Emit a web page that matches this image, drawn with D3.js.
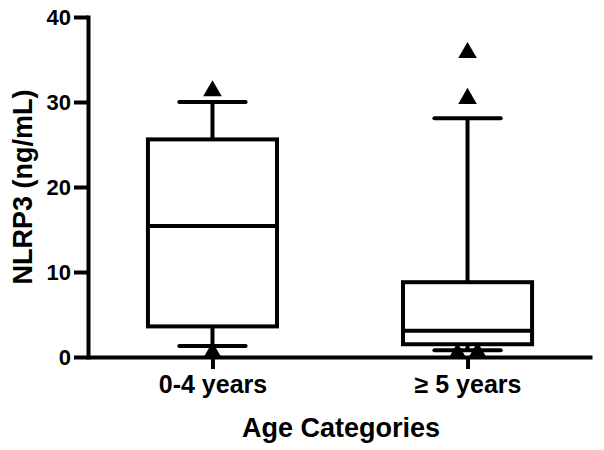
<!DOCTYPE html>
<html>
<head>
<meta charset="utf-8">
<script src="https://cdn.jsdelivr.net/npm/d3@7"></script>
<style>
  body { margin: 0; background: #fff; }
  text { font-family: "Liberation Sans", Arial, sans-serif; font-weight: bold; fill: #000; }
</style>
</head>
<body>
<svg id="svg1"></svg>
<script>

// data
var categories = ["0-4 years", "\u2265 5 years"];
var whiskerLow = [1.3, 0.8];
var q1 = [3.6, 1.5];
var median = [15.4, 3.1];
var q3 = [25.6, 8.8];
var whiskerHigh = [30.0, 28.1];
var outliers = [[31.3, 0.5], [35.8, 30.4, 0.5, 0.4]];
var yTicks = [0, 10, 20, 30, 40];

var width = 604;
var height = 450;

var svg = d3.select("#svg1")
    .attr("width", width)
    .attr("height", height);

// scales
var x = d3.scalePoint()
    .domain(categories)
    .range([88, 592])
    .padding(0.488);

var y = d3.scaleLinear()
    .domain([0, 40])
    .range([357, 17]);

var step = x.step();
var boxW = step * 0.506;
var capW = step * 0.26;

var groups = categories.map(function (c, i) {
  return {cat: c, lo: whiskerLow[i], q1: q1[i], med: median[i], q3: q3[i], hi: whiskerHigh[i], out: outliers[i]};
});

var g = svg.append("g");

// whiskers
g.selectAll("line.whisk-up")
    .data(groups)
    .enter()
    .append("line")
      .attr("x1", function (d) { return x(d.cat); })
      .attr("x2", function (d) { return x(d.cat); })
      .attr("y1", function (d) { return y(d.q3); })
      .attr("y2", function (d) { return y(d.hi); })
      .attr("stroke", "#000")
      .attr("stroke-width", 4);

g.selectAll("line.whisk-down")
    .data(groups)
    .enter()
    .append("line")
      .attr("x1", function (d) { return x(d.cat); })
      .attr("x2", function (d) { return x(d.cat); })
      .attr("y1", function (d) { return y(d.q1); })
      .attr("y2", function (d) { return y(d.lo); })
      .attr("stroke", "#000")
      .attr("stroke-width", 4);

// caps
["hi", "lo"].forEach(function (k) {
  g.selectAll("line.cap-" + k)
      .data(groups)
      .enter()
      .append("line")
        .attr("x1", function (d) { return x(d.cat) - capW / 2; })
        .attr("x2", function (d) { return x(d.cat) + capW / 2; })
        .attr("y1", function (d) { return y(d[k]); })
        .attr("y2", function (d) { return y(d[k]); })
        .attr("stroke", "#000")
        .attr("stroke-width", 4)
        .attr("stroke-linecap", "round");
});

// boxes
g.selectAll("rect.box")
    .data(groups)
    .enter()
    .append("rect")
      .attr("x", function (d) { return x(d.cat) - boxW / 2; })
      .attr("y", function (d) { return y(d.q3); })
      .attr("width", boxW)
      .attr("height", function (d) { return y(d.q1) - y(d.q3); })
      .attr("fill", "none")
      .attr("stroke", "#000")
      .attr("stroke-width", 4);

g.selectAll("line.median")
    .data(groups)
    .enter()
    .append("line")
      .attr("x1", function (d) { return x(d.cat) - boxW / 2; })
      .attr("x2", function (d) { return x(d.cat) + boxW / 2; })
      .attr("y1", function (d) { return y(d.med); })
      .attr("y2", function (d) { return y(d.med); })
      .attr("stroke", "#000")
      .attr("stroke-width", 4);

// outliers, spread sideways when they overlap
var pts = [];
groups.forEach(function (d) {
  var vals = d.out.slice().sort(d3.ascending);
  var clusters = [];
  vals.forEach(function (v) {
    var last = clusters[clusters.length - 1];
    if (last && v - last[last.length - 1] < 1.5) last.push(v); else clusters.push([v]);
  });
  clusters.forEach(function (cl) {
    cl.forEach(function (v, j) {
      pts.push({cat: d.cat, v: v, off: (j - (cl.length - 1) / 2) * 20});
    });
  });
});

g.selectAll("path.pt")
    .data(pts)
    .enter()
    .append("path")
      .attr("d", d3.symbol().type(d3.symbolTriangle).size(150))
      .attr("transform", function (d) { return "translate(" + (x(d.cat) + d.off) + "," + y(d.v) + ")"; })
      .attr("fill", "#000");

// Y axis
var yAxis = svg.append("g")
    .attr("transform", "translate(88,0)")
    .call(d3.axisLeft(y).tickValues(yTicks).tickSize(14).tickSizeOuter(0).tickPadding(3));
yAxis.select(".domain").attr("stroke-width", 4).attr("stroke-linecap", "square");
yAxis.selectAll(".tick line").attr("stroke-width", 4);
yAxis.selectAll("text").style("font-size", "22px");

// X axis
var xAxis = svg.append("g")
    .attr("transform", "translate(0,357)")
    .call(d3.axisBottom(x).tickSize(12).tickSizeOuter(0).tickPadding(6));
xAxis.select(".domain").attr("stroke-width", 4);
xAxis.selectAll(".tick line").attr("stroke-width", 4);
xAxis.selectAll("text").style("font-size", "25px");

// axis titles
svg.append("text")
    .attr("x", 341)
    .attr("y", 437)
    .attr("text-anchor", "middle")
    .style("font-size", "27px")
    .text("Age Categories");

svg.append("text")
    .attr("transform", "translate(32,187) rotate(-90)")
    .attr("text-anchor", "middle")
    .style("font-size", "27px")
    .text("NLRP3 (ng/mL)");

</script>
</body>
</html>
